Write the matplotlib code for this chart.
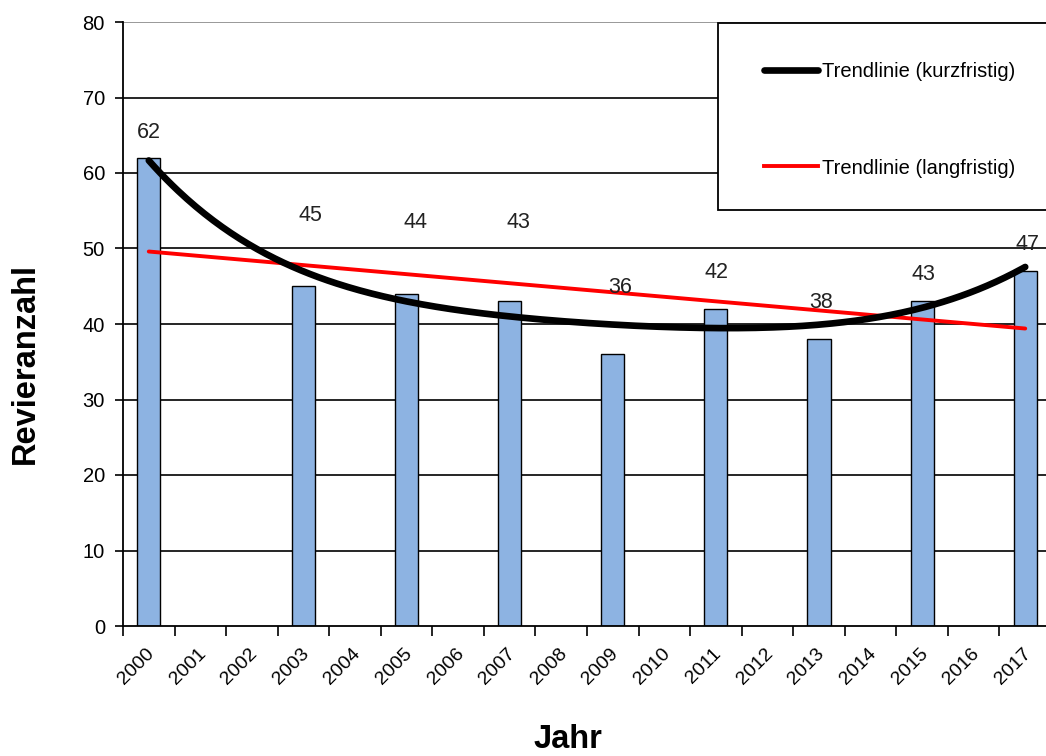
import numpy as np
import matplotlib
matplotlib.use("Agg")
import matplotlib.pyplot as plt
from matplotlib.patches import Rectangle
from matplotlib.lines import Line2D
import matplotlib.transforms as mtransforms

# ---- data ----
years = [str(y) for y in range(2000, 2018)]
bar_years = ["2000", "2003", "2005", "2007", "2009", "2011", "2013", "2015", "2017"]
bar_values = [62, 45, 44, 43, 36, 42, 38, 43, 47]
# short-term trend line (at each year 2000..2017)
short_trend_values = [61.7, 54.9, 50.5, 46.9, 44.6, 43.0, 41.9, 41.0, 40.3,
                      39.9, 39.6, 39.55, 39.6, 39.9, 40.6, 42.1, 44.5, 47.5]
# long-term trend line: value at 2000 and at 2017
long_trend_years = ["2000", "2017"]
long_trend_values = [49.6, 39.4]
# label vertical positions (in data units) as placed in the original
label_pos = [65.4, 54.4, 53.5, 53.4, 44.9, 46.8, 42.8, 46.5, 50.5]
label_dx = [0, 7, 9, 9, 7, 1, 2, 1, 2]  # pixel nudges

plt.rcParams['font.family'] = ['Liberation Sans', 'DejaVu Sans']

W, H = 1046, 756
fig = plt.figure(figsize=(W / 100, H / 100), dpi=100)
left, right_px, top, bottom = 123, 1051, 22, 626
ax = fig.add_axes([left / W, 1 - bottom / H, (right_px - left) / W, (bottom - top) / H])

xidx = {y: i for i, y in enumerate(years)}
bx = np.array([xidx[y] for y in bar_years], dtype=float)

ax.bar(bx, bar_values, width=0.45, color="#8DB3E2", edgecolor="black", linewidth=1.0, zorder=2)

# short-term trend (smoothed polynomial through the read trend values, like Excel's trendline)
tx = np.arange(len(years), dtype=float)
coef = np.polyfit(tx, short_trend_values, 6)
xs = np.linspace(tx[0], tx[-1], 300)
ax.plot(xs, np.polyval(coef, xs), color="black", lw=4.8, zorder=4,
        solid_capstyle="round", solid_joinstyle="round")

# long-term trend line
lx = [xidx[y] for y in long_trend_years]
ax.plot(lx, long_trend_values, color="red", lw=2.8, zorder=3, solid_capstyle="round")

for x, v, p, dx in zip(bx, bar_values, label_pos, label_dx):
    off = mtransforms.offset_copy(ax.transData, fig=fig, x=dx, y=0, units="dots")
    ax.text(x, p, str(v), ha="center", va="center", fontsize=15.5, color="#222222", zorder=5,
            transform=off)

ax.set_xlim(-0.5, 17.5)
ax.set_ylim(0, 80)
ax.set_yticks(range(0, 81, 10))
ax.set_yticklabels([str(v) for v in range(0, 81, 10)], fontsize=14.5)
ax.tick_params(axis="y", length=6, width=1.2, pad=7, direction="out")

# gridlines
for v in range(10, 81, 10):
    ax.axhline(v, color="#888888" if v == 80 else "black", lw=1.2, zorder=1)

# category boundary ticks
ax.set_xticks(np.arange(-0.5, 17.6, 1.0))
ax.set_xticklabels([])
ax.tick_params(axis="x", length=7, width=1.2, direction="out")
ax.set_xticks(np.arange(0, 18), minor=True)
ax.set_xticklabels(years, minor=True, rotation=45, ha="right", va="top", fontsize=14)
ax.tick_params(axis="x", which="minor", length=0, pad=14)
off = mtransforms.ScaledTranslation(9 / 100, 0, fig.dpi_scale_trans)
for lab in ax.get_xticklabels(minor=True):
    lab.set_transform(lab.get_transform() + off)

for s in ["top", "right"]:
    ax.spines[s].set_visible(False)
ax.spines["left"].set_linewidth(1.3)
ax.spines["bottom"].set_linewidth(1.3)

# axis titles
fig.text(25 / W, 1 - 363 / H, "Revieranzahl", rotation=90, ha="center", va="center",
         fontsize=23.5, fontweight="bold")
fig.text(568 / W, 1 - 740 / H, "Jahr", ha="center", va="center", fontsize=23.5, fontweight="bold")

# legend box
fig.patches.append(Rectangle((718 / W, 1 - 210 / H), (1060 - 718) / W, (210 - 23) / H,
                             transform=fig.transFigure, facecolor="white", edgecolor="black",
                             lw=1.3, zorder=10))
handles = [Line2D([], [], color="black", lw=4.8, solid_capstyle="round"),
           Line2D([], [], color="red", lw=2.8)]
leg = fig.legend(handles, ["Trendlinie (kurzfristig)", "Trendlinie (langfristig)"],
                 loc="upper left", bbox_to_anchor=(764 / W, 1 - 62 / H), frameon=False,
                 fontsize=14.5, handlelength=2.7, handletextpad=0.2, labelspacing=3.85,
                 borderpad=0, borderaxespad=0)
leg.set_zorder(11)

fig.savefig("out.png", dpi=100)
